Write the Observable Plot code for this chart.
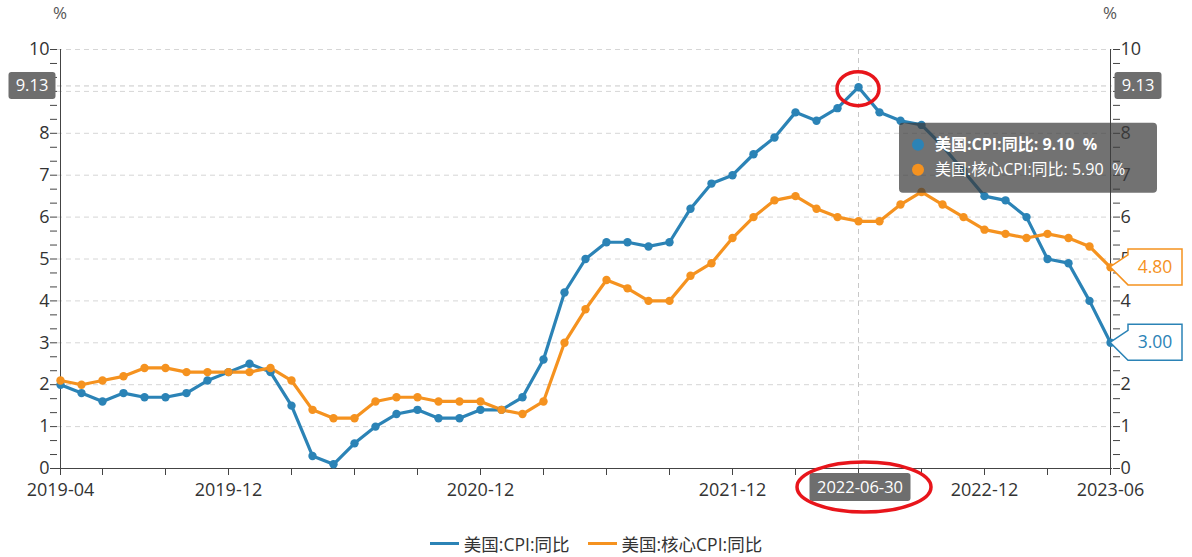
<!DOCTYPE html>
<html>
<head>
<meta charset="utf-8">
<script src="https://cdn.jsdelivr.net/npm/d3@7"></script>
<script src="https://cdn.jsdelivr.net/npm/@observablehq/plot@0.6"></script>
<style>
  html, body { margin: 0; padding: 0; background: #fff; }
  body { width: 1192px; height: 557px; position: relative; overflow: hidden;
         font-family: "Open Sans", "Noto Sans CJK SC", sans-serif; }
  #legend { position: absolute; left: 0; top: 530px; width: 1192px; height: 27px;
            display: flex; justify-content: center; align-items: center; gap: 18px;
            font-size: 17.5px; color: #333; }
  .item { display: flex; align-items: center; gap: 5px; }
  .sw { width: 29px; height: 3px; display: inline-block; }
</style>
</head>
<body>
<div id="chart"></div>
<div id="legend"></div>
<script>
const months = ["2019-04","2019-05","2019-06","2019-07","2019-08","2019-09","2019-10","2019-11","2019-12",
  "2020-01","2020-02","2020-03","2020-04","2020-05","2020-06","2020-07","2020-08","2020-09","2020-10","2020-11","2020-12",
  "2021-01","2021-02","2021-03","2021-04","2021-05","2021-06","2021-07","2021-08","2021-09","2021-10","2021-11","2021-12",
  "2022-01","2022-02","2022-03","2022-04","2022-05","2022-06","2022-07","2022-08","2022-09","2022-10","2022-11","2022-12",
  "2023-01","2023-02","2023-03","2023-04","2023-05","2023-06"];
const cpi = [2.0,1.8,1.6,1.8,1.7,1.7,1.8,2.1,2.3,
  2.5,2.3,1.5,0.3,0.1,0.6,1.0,1.3,1.4,1.2,1.2,1.4,
  1.4,1.7,2.6,4.2,5.0,5.4,5.4,5.3,5.4,6.2,6.8,7.0,
  7.5,7.9,8.5,8.3,8.6,9.1,8.5,8.3,8.2,7.7,7.1,6.5,
  6.4,6.0,5.0,4.9,4.0,3.0];
const coreCpi = [2.1,2.0,2.1,2.2,2.4,2.4,2.3,2.3,2.3,
  2.3,2.4,2.1,1.4,1.2,1.2,1.6,1.7,1.7,1.6,1.6,1.6,
  1.4,1.3,1.6,3.0,3.8,4.5,4.3,4.0,4.0,4.6,4.9,5.5,
  6.0,6.4,6.5,6.2,6.0,5.9,5.9,6.3,6.6,6.3,6.0,5.7,
  5.6,5.5,5.6,5.5,5.3,4.8];
const seriesNames = ["美国:CPI:同比", "美国:核心CPI:同比"];
const seriesColors = ["#2b83b6", "#f5921f"];
const yTicks = [0,1,2,3,4,5,6,7,8,9,10];
const yLabelled = [0,1,2,3,4,5,6,7,8,10];   // 9 is hidden under the pointer label
const xTicks = ["2019-04","2019-06","2019-09","2019-12","2020-03","2020-06","2020-09","2020-12",
  "2021-03","2021-06","2021-09","2021-12","2022-03","2022-06","2022-09","2022-12","2023-03","2023-06"];
const xLabels = ["2019-04","2019-12","2020-12","2021-12","2022-12","2023-06"];
const unitLabel = "%";
const pointerMonth = "2022-06";
const pointerDateLabel = "2022-06-30";
const pointerY = 9.13;
const pointerYLabel = "9.13";
const tooltipLines = ["美国:CPI:同比: 9.10  %", "美国:核心CPI:同比: 5.90  %"];

const minorTicks = d3.range(0, 10.001, 1/3).filter(v => Math.abs(v - Math.round(v)) > 1e-6);

const data = [
  ...months.map((m, i) => ({month: m, series: seriesNames[0], value: cpi[i]})),
  ...months.map((m, i) => ({month: m, series: seriesNames[1], value: coreCpi[i]}))
];

const font = '"Open Sans", "Noto Sans CJK SC", sans-serif';
const chart = Plot.plot({
  width: 1192, height: 530,
  marginLeft: 57, marginRight: 80, marginTop: 49, marginBottom: 62,
  style: {fontFamily: font, fontSize: "18px", color: "#333", background: "transparent", overflow: "visible"},
  x: {type: "point", domain: months, padding: 0},
  y: {domain: [0, 10]},
  color: {domain: seriesNames, range: seriesColors},
  marks: [
    Plot.gridY(yTicks.slice(1), {stroke: "#d6d6d6", strokeOpacity: 1, strokeDasharray: "5,4"}),
    Plot.ruleX([pointerMonth], {stroke: "#c8c8c8", strokeDasharray: "5,4"}),
    Plot.ruleY([pointerY], {stroke: "#c8c8c8", strokeDasharray: "5,4"}),
    Plot.axisY(minorTicks, {anchor: "left", tickSize: 7, tickFormat: () => "", label: null, stroke: "#444"}),
    Plot.axisY(yTicks, {anchor: "left", tickSize: 7, tickPadding: 1, label: null, stroke: "#444", fill: "#333",
      tickFormat: d => yLabelled.includes(d) ? String(d) : ""}),
    Plot.axisY(minorTicks, {anchor: "right", tickSize: 7, tickFormat: () => "", label: null, stroke: "#444"}),
    Plot.axisY(yTicks, {anchor: "right", tickSize: 7, tickPadding: 1, label: null, stroke: "#444", fill: "#333",
      tickFormat: d => yLabelled.includes(d) ? String(d) : ""}),
    Plot.axisX(xTicks, {anchor: "bottom", tickSize: 7, tickPadding: 8,
      tickFormat: d => xLabels.includes(d) ? d : "", label: null, stroke: "#444", fill: "#333"}),
    Plot.ruleY([0], {stroke: "#444"}),
    Plot.ruleX([months[0], months[months.length - 1]], {stroke: "#444"}),
    Plot.line(data, {x: "month", y: "value", z: "series", stroke: "series", strokeWidth: 3.2}),
    Plot.dot(data, {x: "month", y: "value", fill: "series", r: 4.2})
  ]
});
document.getElementById("chart").appendChild(chart);

const X = chart.scale("x"), Y = chart.scale("y");
const svg = d3.select(chart);
const x0 = X.apply(months[0]), x1 = X.apply(months[months.length - 1]);

// unit labels
[x0, x1].forEach(x => svg.append("text").attr("x", x).attr("y", 19).attr("text-anchor", "middle")
  .attr("fill", "#555").attr("font-size", 17).attr("font-family", font).text(unitLabel));

function grayBox(cx, cy, w, h, label) {
  svg.append("rect").attr("x", cx - w/2).attr("y", cy - h/2).attr("width", w).attr("height", h)
    .attr("rx", 3).attr("fill", "#6e6e6e");
  svg.append("text").attr("x", cx).attr("y", cy).attr("dy", "0.35em").attr("text-anchor", "middle")
    .attr("fill", "#fff").attr("font-size", 16.5).attr("font-family", font).text(label);
}
const py = Y.apply(pointerY);
grayBox(x0 - 28, py, 47, 27, pointerYLabel);
grayBox(x1 + 28, py, 47, 27, pointerYLabel);
const px = X.apply(pointerMonth);
grayBox(px + 2, Y.apply(0) + 19, 101, 28, pointerDateLabel);

// end labels
function endLabel(value, color, text) {
  const ex = X.apply(months[months.length - 1]), ey = Y.apply(value);
  const bx = ex + 18, bw = 54, top = ey - 18, bot = ey + 18;
  svg.append("path")
    .attr("d", `M${ex},${ey} L${bx},${ey - 12} L${bx},${top} L${bx + bw},${top} L${bx + bw},${bot} L${bx},${bot} Z`)
    .attr("fill", "#fff").attr("stroke", color).attr("stroke-width", 1.5);
  svg.append("text").attr("x", bx + bw/2).attr("y", ey).attr("dy", "0.35em").attr("text-anchor", "middle")
    .attr("fill", color).attr("font-size", 17.5).attr("font-family", font).text(text);
}
endLabel(coreCpi[coreCpi.length - 1], seriesColors[1], coreCpi[coreCpi.length - 1].toFixed(2));
endLabel(cpi[cpi.length - 1], seriesColors[0], cpi[cpi.length - 1].toFixed(2));

// tooltip
const tipX = px + 41, tipY = Y.apply(8.24);
svg.append("rect").attr("x", tipX).attr("y", tipY).attr("width", 258).attr("height", 70).attr("rx", 4)
  .attr("fill", "rgba(60,60,60,0.72)");
tooltipLines.forEach((t, i) => {
  const ly = tipY + 22 + i * 25;
  svg.append("circle").attr("cx", tipX + 19).attr("cy", ly).attr("r", 6).attr("fill", seriesColors[i]);
  svg.append("text").attr("x", tipX + 36).attr("y", ly).attr("dy", "0.35em").attr("fill", "#fff")
    .attr("text-anchor", "start")
    .attr("font-size", 16).attr("font-weight", i === 0 ? "bold" : "normal").attr("font-family", font)
    .attr("xml:space", "preserve").style("white-space", "pre").text(t);
});

// red annotation ellipses
svg.append("ellipse").attr("cx", px).attr("cy", Y.apply(cpi[months.indexOf(pointerMonth)]) + 2)
  .attr("rx", 21).attr("ry", 17).attr("fill", "none").attr("stroke", "#e8151b").attr("stroke-width", 3.5);
svg.append("ellipse").attr("cx", px + 6).attr("cy", Y.apply(0) + 19).attr("rx", 67).attr("ry", 25)
  .attr("fill", "none").attr("stroke", "#e8151b").attr("stroke-width", 3.5);

// legend
const legend = document.getElementById("legend");
seriesNames.forEach((n, i) => {
  const it = document.createElement("div"); it.className = "item";
  const sw = document.createElement("span"); sw.className = "sw"; sw.style.background = seriesColors[i];
  const tx = document.createElement("span"); tx.textContent = n;
  it.appendChild(sw); it.appendChild(tx); legend.appendChild(it);
});
</script>
</body>
</html>
